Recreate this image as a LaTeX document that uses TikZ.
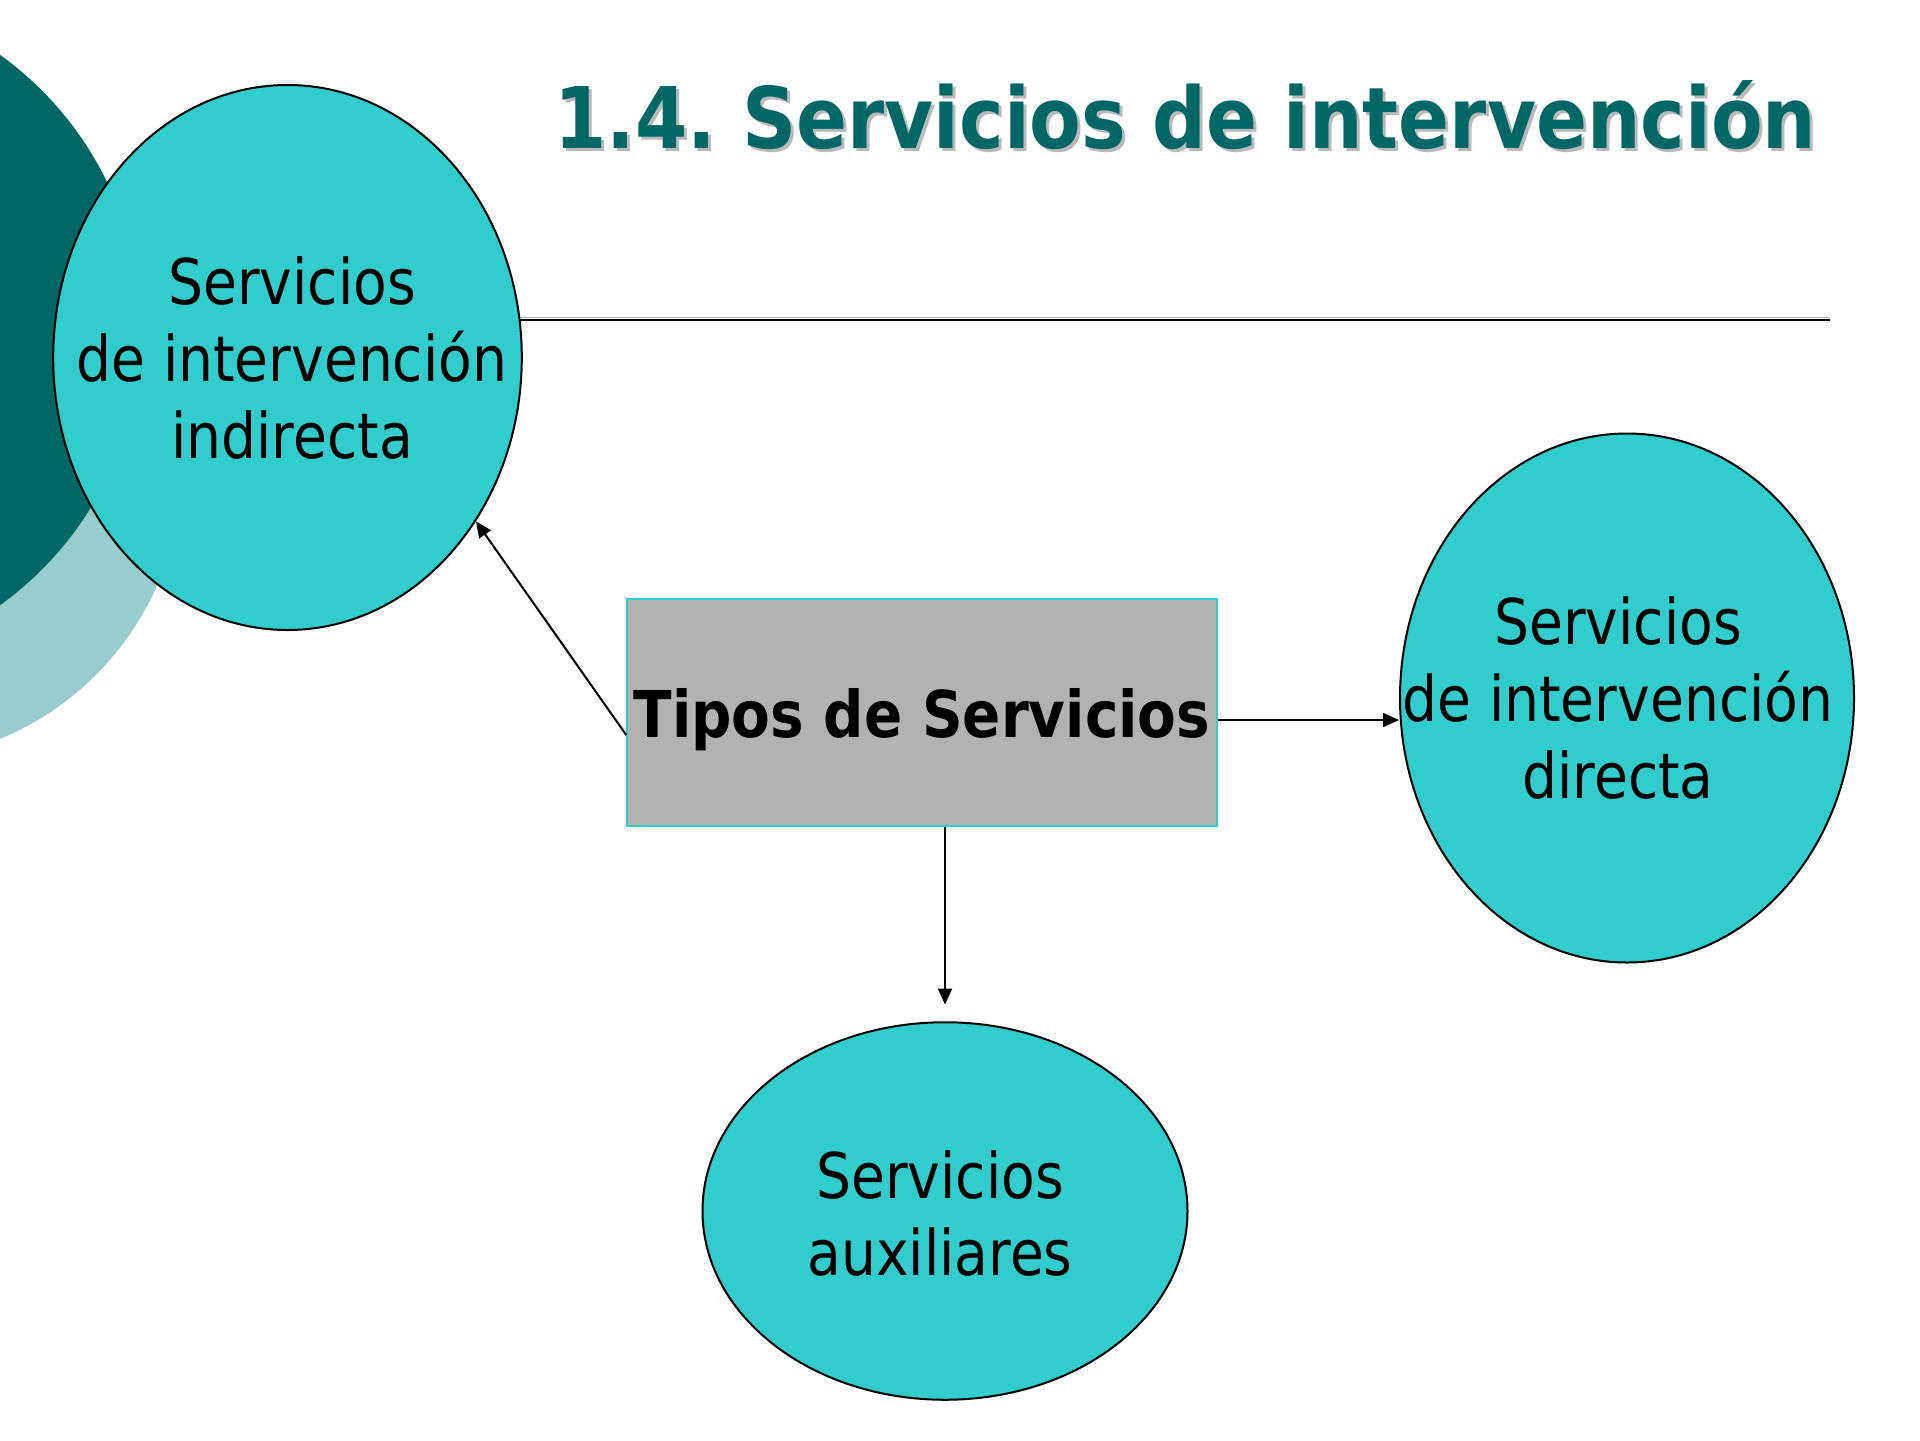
\documentclass[tikz,border=0pt]{standalone}
\usepackage{fontspec}
\usetikzlibrary{shapes.geometric,arrows.meta,calc}
\newfontfamily\tahfont[FakeStretch=0.875]{DejaVu Sans}
\newfontfamily\titlefont[FakeStretch=0.885]{DejaVu Sans}
\definecolor{darkteal}{RGB}{0,102,102}
\definecolor{lightteal}{RGB}{153,204,204}
\definecolor{aqua}{RGB}{51,204,204}
\definecolor{boxgray}{RGB}{178,178,178}
\definecolor{shadowgray}{RGB}{185,185,185}
\frenchspacing
\begin{document}
\begin{tikzpicture}[x=0.5pt,y=-0.5pt,
  bubble/.style={ellipse, draw=black, line width=1pt, fill=aqua, inner sep=0pt},
  bubbletext/.style={font=\tahfont\fontsize{31.5pt}{38.5pt}\selectfont, align=center, inner sep=0pt, anchor=base},
  titletext/.style={font=\titlefont\bfseries\fontsize{42.5pt}{50pt}\selectfont, inner sep=0pt, anchor=base west},
  conn/.style={-{Triangle[length=8pt,width=7pt]}, line width=1pt}]
\useasboundingbox (0,0) rectangle (1920,1440);
\fill[white] (0,0) rectangle (1920,1440);
\begin{scope}
  \clip (0,0) rectangle (1920,1440);
  \fill[lightteal] (-112,467) circle[radius=294];
  \fill[darkteal] (-198,330) circle[radius=339];
\end{scope}
% title
\node[titletext, text=shadowgray] (titleshadow) at (557,151.3) {1.4.\ Servicios de intervención};
\node[titletext, text=darkteal] (title) at (554,148.3) {1.4.\ Servicios de intervención};
% rule
\coordinate (rulestart) at (440,319.5);
\coordinate (ruleend) at (1830,319.5);
\draw[shadowgray, line width=0.75pt] ([yshift=1pt]rulestart) -- ([yshift=1pt]ruleend);
\draw[black, line width=1pt] (rulestart) -- (ruleend);
% bubbles
\node[bubble, minimum width=234.3pt, minimum height=272.5pt] (ind) at (287.5,357.5) {};
\node[bubble, minimum width=227pt, minimum height=264.5pt] (dir) at (1627,698) {};
\node[bubble, minimum width=242.5pt, minimum height=188.75pt] (aux) at (945,1211) {};
\node[bubbletext] (indtext) at (292,458.7) {Servicios\\de intervención\\indirecta};
\node[bubbletext] (dirtext) at (1618,798.6) {Servicios\\de intervención\\directa};
\node[bubbletext] (auxtext) at (940,1275) {Servicios\\auxiliares};
% central box
\node[draw=aqua, fill=boxgray, line width=0.75pt, minimum width=295pt, minimum height=113.5pt, inner sep=0pt] (box) at (922,712.5) {};
\node[font=\tahfont\bfseries\fontsize{32.25pt}{38pt}\selectfont, inner sep=0pt, anchor=base] (boxtext) at ([yshift=-12.25pt]box.center) {Tipos de Servicios};
% connectors
\draw[conn] ([yshift=-11.25pt]box.west) -- (ind.-41);
\coordinate (rs) at ([yshift=-3.75pt]box.east);
\draw[conn] (rs) -- (dir.west |- rs);
\draw[conn] (aux.north |- box.south) -- ([yshift=8.35pt]aux.north);
\end{tikzpicture}
\end{document}
